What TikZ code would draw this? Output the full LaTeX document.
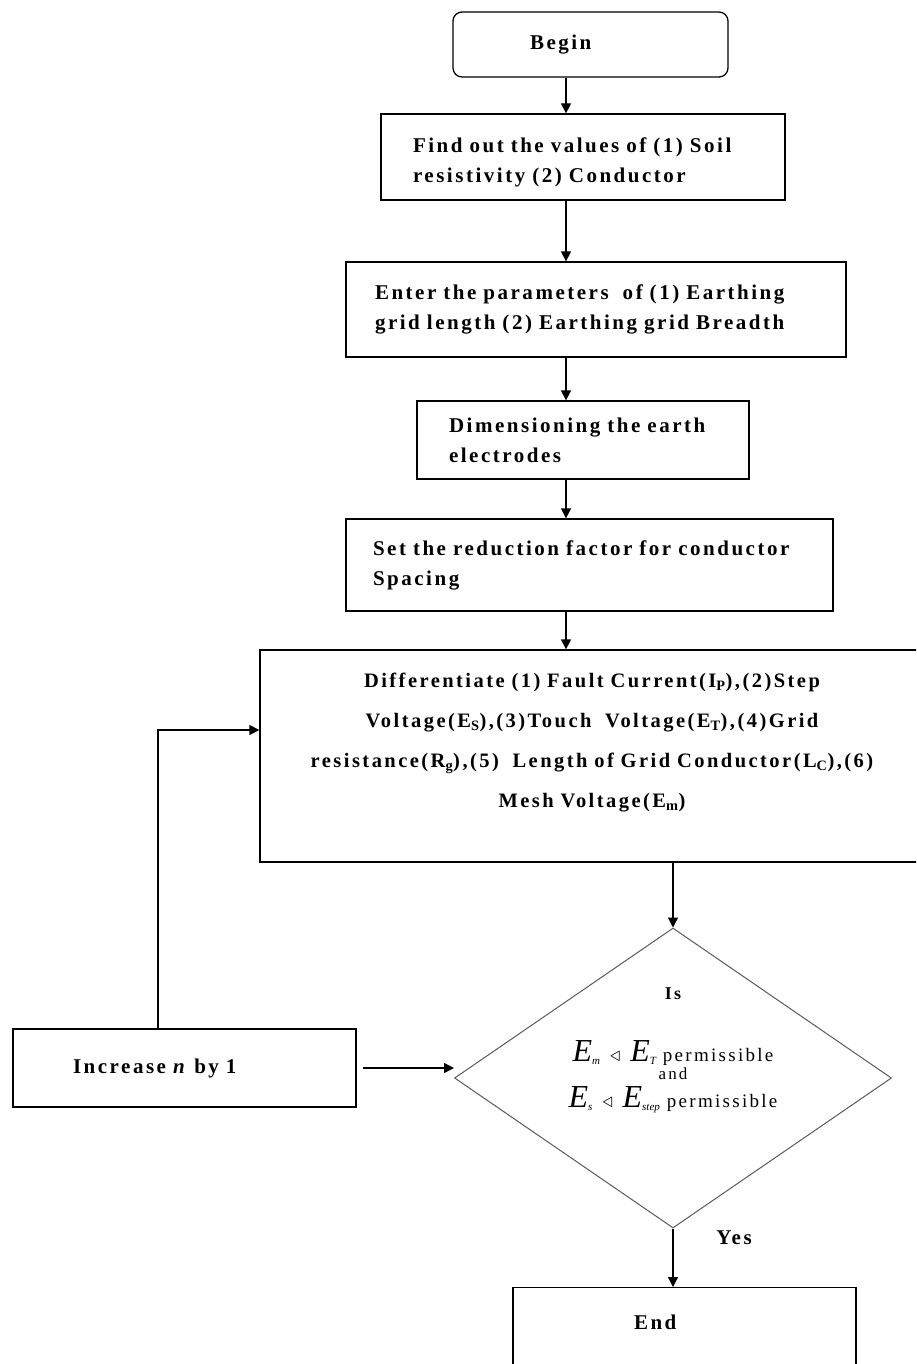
\documentclass[tikz,border=0pt]{standalone}
\usepackage{fontspec}
\setmainfont{Liberation Serif}
\newfontfamily\boxfont{Liberation Serif}[LetterSpace=12]
\usetikzlibrary{arrows.meta,shapes.geometric}
\def\bigE#1{{\fontsize{32}{32}\selectfont\itshape E}\raisebox{-3pt}{\fontsize{11}{11}\selectfont\itshape #1}}
\def\lt{\hspace{10pt}{\fontsize{20}{20}\selectfont$\triangleleft$}\hspace{10pt}}
\def\perm{\hspace{7pt}{\boxfont\fontsize{19}{19}\selectfont permissible}}

\tikzset{
	box/.style={draw, line width=0.45mm, inner sep=0pt, align=left, font=\boxfont\bfseries\fontsize{21}{30}\selectfont},
	arr/.style={line width=0.45mm, -{Triangle[length=10pt,width=10pt]}},
}

\begin{document}
\begin{tikzpicture}[x=1pt, y=-1pt]
			%%%%% START %%%%%
			\useasboundingbox (0, 0) rectangle (916, 1364);
			\clip (0, 0) rectangle (916, 1364);
			
			\node[box, rounded corners=9pt, minimum width=275pt, minimum height=65pt, text width=121pt] (begin) at (590.5, 44.5) {Begin};
			\node[box, minimum width=404pt, minimum height=86pt, text width=340pt] (find) at (583, 157) {\rule{0pt}{26pt}Find out the values of (1) Soil\\ resistivity (2) Conductor};
			\node[box, minimum width=500pt, minimum height=95pt, text width=442pt] (enter) at (596, 309.5) {Enter the parameters\ \ of (1) Earthing\\ grid length (2) Earthing grid Breadth};
			\node[box, minimum width=332pt, minimum height=78pt, text width=268pt] (dim) at (583, 440) {Dimensioning the earth\\ electrodes};
			\node[box, minimum width=487pt, minimum height=92pt, text width=433pt] (setf) at (589.5, 565) {Set the reduction factor for conductor\\ Spacing};
			\node[box, align=center, minimum width=664pt, minimum height=212pt, text width=640pt, font=\boxfont\bfseries\fontsize{20.5}{40}\selectfont] (diff) at (592, 756) {Differentiate (1) Fault Current(I\textsubscript{P}),(2)Step\\ Voltage(E\textsubscript{S}),(3)Touch\ \ Voltage(E\textsubscript{T}),(4)Grid\\ resistance(R\textsubscript{g}),(5)\ \ Length of Grid Conductor(L\textsubscript{C}),(6)\\ Mesh Voltage(E\textsubscript{m})\rule[-32pt]{0pt}{32pt}};
			
			\node[draw, diamond, line width=0.35mm, color=black!65, text=black, inner sep=0pt, minimum width=437pt, minimum height=300pt] (test) at (673, 1078) {\smash{\raisebox{25pt}{\renewcommand{\arraystretch}{0}\begin{tabular}{c}
				{\boxfont\bfseries\fontsize{18}{18}\selectfont Is}\\[41pt]
				\bigE{m}\lt\bigE{T}\perm\\[6pt]
				{\boxfont\fontsize{17}{17}\selectfont and}\\[7pt]
				\bigE{s}\lt\bigE{step}\perm
			\end{tabular}}}};
			
			\node[box, minimum width=343pt, minimum height=78pt, text width=223pt] (inc) at (184.5, 1068) {Increase \textit{n} by 1};
			\node[box, anchor=north, inner ysep=27pt, minimum width=343pt, text width=101pt] (end) at (684.5, 1287) {End\rule[-60pt]{0pt}{60pt}};
			\node[font=\boxfont\bfseries\fontsize{21}{21}\selectfont] (yes) at (734, 1238) {Yes};
			
			\coordinate (spine) at (566, 0);
			\coordinate (back) at (158, 730);
			
			\draw[arr] (begin.south -| spine) -- (find.north -| spine);
			\draw[arr] (find.south -| spine) -- (enter.north -| spine);
			\draw[arr] (enter.south -| spine) -- (dim.north -| spine);
			\draw[arr] (dim.south -| spine) -- (setf.north -| spine);
			\draw[arr] (setf.south -| spine) -- (diff.north -| spine);
			\draw[arr] (diff.south -| test.north) -- (test.north);
			\draw[arr] (test.south) -- (end.north -| test.south);
			\draw[arr] ([xshift=6pt]inc.east) -- (test.west |- inc.east);
			\draw[arr] (inc.north -| back) -- (back) -- (diff.west |- back);
			%%%%% END %%%%%
\end{tikzpicture}
\end{document}
